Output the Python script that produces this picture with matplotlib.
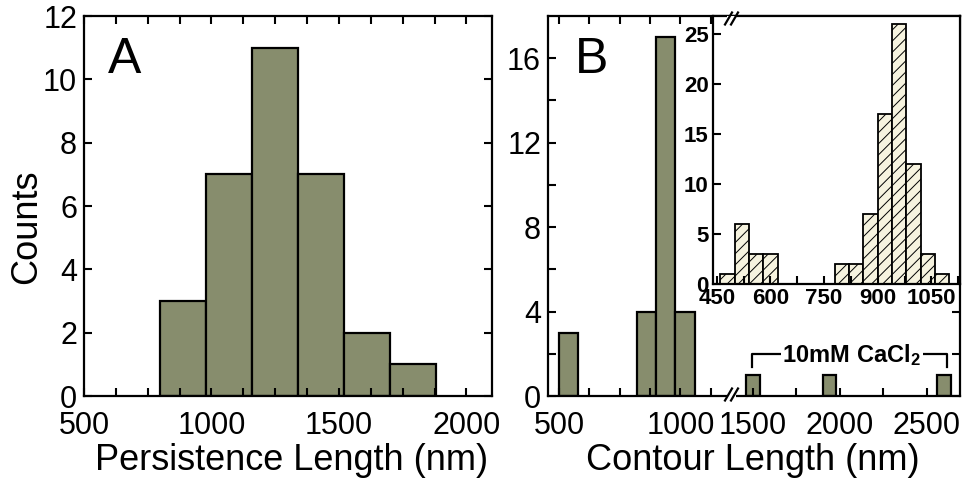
import matplotlib
matplotlib.use('Agg')
import matplotlib.pyplot as plt
from matplotlib.lines import Line2D
from matplotlib.patches import Rectangle
import numpy as np

plt.rcParams['font.family'] = ['Liberation Sans', 'DejaVu Sans']
plt.rcParams['mathtext.fontset'] = 'custom'
plt.rcParams['mathtext.bf'] = 'Liberation Sans:bold'
plt.rcParams['mathtext.rm'] = 'Liberation Sans'
plt.rcParams['hatch.linewidth'] = 0.7

# panel A: persistence length histogram
pers_edges = [800, 980, 1160, 1340, 1520, 1700, 1880]
pers_counts = [3, 7, 11, 7, 2, 1]

# panel B: contour length, broken x axis (left part / right part)
cont_left_starts = [500, 820, 900, 980]
cont_left_counts = [3, 4, 17, 4]
cont_right_starts = [1460, 1900, 2560]
cont_right_counts = [1, 1, 1]
cont_width = 80

# inset of B: 40 nm bins
inset_starts = [460, 500, 540, 580, 780, 820, 860, 900, 940, 980, 1020, 1060]
inset_counts = [1, 6, 3, 3, 2, 2, 7, 17, 26, 12, 3, 1]
inset_width = 40

bar_color = '#878d6d'
W, H = 970, 480


def box(x0, y0, x1, y1):
    # pixel box (top-left origin) -> figure fraction rect
    return [x0 / W, 1 - y1 / H, (x1 - x0) / W, (y1 - y0) / H]


def style(ax, size=22, bold=False, xpad=11, ypad=5):
    for s in ax.spines.values():
        s.set_linewidth(1.6)
    ax.tick_params(which='both', direction='in', length=6, width=1.5,
                   labelsize=size)
    ax.tick_params(axis='x', which='both', pad=xpad)
    ax.tick_params(axis='y', which='both', pad=ypad)
    if bold:
        for lab in ax.get_xticklabels() + ax.get_yticklabels():
            lab.set_fontweight('bold')


fig = plt.figure(figsize=(9.7, 4.8), dpi=100)

# ---- A ----
axA = fig.add_axes(box(84, 16, 492, 396))
axA.bar(pers_edges[:-1], pers_counts, width=np.diff(pers_edges), align='edge',
        color=bar_color, edgecolor='black', linewidth=1.6)
axA.set_xlim(500, 2100)
axA.set_ylim(0, 12)
axA.set_xticks([500, 1000, 1500, 2000])
axA.set_xticks(np.arange(500, 2100, 125), minor=True)
axA.set_yticks(np.arange(0, 13, 2))
axA.tick_params(top=True, right=True, which='both')
style(axA)
axA.text(594, 10.2, 'A', fontsize=36, ha='left', va='baseline')
fig.text(27 / W, 1 - 227 / H, 'Counts', rotation=90, fontsize=26,
         ha='center', va='center')
fig.text(292 / W, 1 - 460 / H, 'Persistence Length (nm)', fontsize=26,
         ha='center', va='center')

# ---- B left segment ----
axB1 = fig.add_axes(box(548, 16, 733, 396))
axB1.bar(cont_left_starts, cont_left_counts, width=cont_width, align='edge',
         color=bar_color, edgecolor='black', linewidth=1.6)
axB1.set_xlim(455, 1217)
axB1.set_ylim(0, 18)
axB1.set_xticks([500, 1000])
axB1.set_xticks(np.arange(500, 1200, 125), minor=True)
axB1.set_yticks([0, 4, 8, 12, 16])
axB1.set_yticks([2, 6, 10, 14], minor=True)
axB1.spines['right'].set_visible(False)
axB1.tick_params(top=True, right=False, which='both')
style(axB1)
axB1.text(565, 15.3, 'B', fontsize=36, ha='left', va='baseline')

# ---- B right segment ----
axB2 = fig.add_axes(box(733, 16, 960, 396))
axB2.bar(cont_right_starts, cont_right_counts, width=cont_width, align='edge',
         color=bar_color, edgecolor='black', linewidth=1.6)
axB2.set_xlim(1385, 2690)
axB2.set_ylim(0, 18)
axB2.set_xticks([1500, 2000, 2500])
axB2.set_xticks([1750, 2250], minor=True)
axB2.set_yticks([0, 4, 8, 12, 16])
axB2.set_yticks([2, 6, 10, 14], minor=True)
axB2.spines['left'].set_visible(False)
axB2.tick_params(top=True, left=False, right=True, labelleft=False, which='both')
style(axB2)

# 10mM CaCl2 bracket
axB2.plot([1495, 1495, 2615, 2615], [1.37, 1.98, 1.98, 1.37], color='black', lw=1.6)
axB2.text(2069, 1.96, r'$\mathbf{10mM\ CaCl_2}$', fontsize=17, ha='center', va='center',
          bbox=dict(facecolor='white', edgecolor='none', pad=1))

fig.text(753 / W, 1 - 460 / H, 'Contour Length (nm)', fontsize=26,
         ha='center', va='center')

# ---- inset ----
axI = fig.add_axes(box(713, 16, 960, 284))
axI.bar(inset_starts, inset_counts, width=inset_width, align='edge',
        color='#f6f3df', edgecolor='black', linewidth=1.3, hatch='///')
axI.set_xlim(439.4, 1130)
axI.set_ylim(0, 26.8)
axI.set_xticks([450, 600, 750, 900, 1050])
axI.set_xticks(np.arange(450, 1130, 75), minor=True)
axI.set_yticks([0, 5, 10, 15, 20, 25])
axI.tick_params(top=False, right=False, which='both')
style(axI, size=16, bold=True, xpad=3, ypad=3)

# break marks on the B x axis (top and bottom)
for yb in (18.5, 394.5):
    fig.add_artist(Rectangle((727 / W, 1 - (yb + 3) / H), 9 / W, 6 / H,
                             transform=fig.transFigure, facecolor='white',
                             edgecolor='none', zorder=10))
    for xs in (725, 731):
        fig.add_artist(Line2D([xs / W, (xs + 7) / W],
                              [1 - (yb + 6) / H, 1 - (yb - 6) / H],
                              transform=fig.transFigure, color='black',
                              lw=1.6, zorder=11))

fig.savefig('out.png', dpi=100)
